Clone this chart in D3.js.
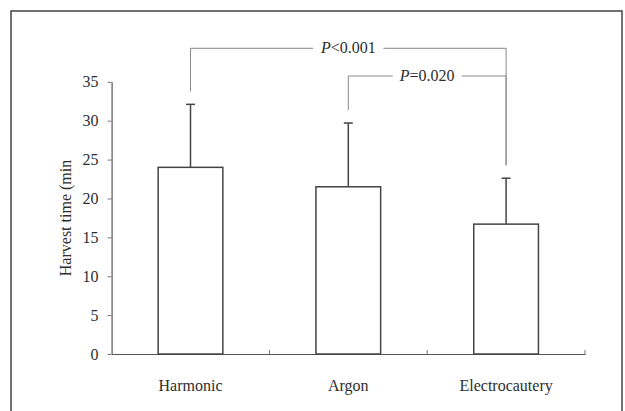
<!DOCTYPE html>
<html>
<head>
<meta charset="utf-8">
<script src="https://cdn.jsdelivr.net/npm/d3@7"></script>
<style>
  body { margin: 0; background: #fff; }
  svg { display: block; font-family: "Liberation Serif", "Times New Roman", serif; }
</style>
</head>
<body>
<div id="chart"></div>
<script>
// data
var groups = ['Harmonic', 'Argon', 'Electrocautery'];
var means = [24.0, 21.5, 16.7];
var errTops = [32.1, 29.7, 22.6];
var yTicks = [0, 5, 10, 15, 20, 25, 30, 35];
var pLabels = ['<0.001', '=0.020'];
var pPairs = [[0, 2], [1, 2]];

var svgWidth = 625, svgHeight = 411;
var ink = '#2e2e2e';
var fs = 16;

var svg = d3.select('#chart')
    .append('svg')
    .attr('width', svgWidth)
    .attr('height', svgHeight);

// outer frame
svg.append('rect')
    .attr('x', 11).attr('y', 11)
    .attr('width', 611).attr('height', 420)
    .attr('fill', 'none')
    .attr('stroke', '#444')
    .attr('stroke-width', 1.5);

var xScale = d3.scaleBand()
    .domain(groups)
    .range([111.6, 585])
    .padding(0);

var yScale = d3.scaleLinear()
    .domain([0, 35])
    .range([354, 81.8]);

var barW = xScale.bandwidth() * 0.41;
var cx = function(i) { return xScale(groups[i]) + xScale.bandwidth() / 2; };

// y axis
var yAxis = d3.axisLeft(yScale)
    .tickValues(yTicks)
    .tickSize(4)
    .tickSizeOuter(0)
    .tickPadding(9);

var yG = svg.append('g')
    .attr('transform', 'translate(111.6,0)')
    .call(yAxis);
yG.select('.domain').attr('stroke', '#555').attr('stroke-width', 1.2);
yG.selectAll('.tick line').attr('stroke', '#777');
yG.selectAll('.tick text')
    .attr('font-size', fs)
    .attr('fill', ink)
    .attr('font-family', '"Liberation Serif", serif');

// x axis: labels from band scale, ticks at band edges pointing up
var xAxis = d3.axisBottom(xScale)
    .tickSize(0)
    .tickSizeOuter(0)
    .tickPadding(26);

var xG = svg.append('g')
    .attr('transform', 'translate(0,354)')
    .call(xAxis);
xG.select('.domain').attr('stroke', '#555').attr('stroke-width', 1.2);
xG.selectAll('.tick text')
    .attr('font-size', fs)
    .attr('fill', ink)
    .attr('font-family', '"Liberation Serif", serif');

xG.selectAll('.edge')
    .data(groups.slice(1).concat(['end']))
    .enter()
    .append('line')
    .attr('x1', (d, i) => xScale(groups[0]) + (i + 1) * xScale.step())
    .attr('x2', (d, i) => xScale(groups[0]) + (i + 1) * xScale.step())
    .attr('y1', 0)
    .attr('y2', -4)
    .attr('stroke', '#777');

// y label (cut off in the original)
svg.append('text')
    .attr('transform', 'translate(71,218) rotate(-90)')
    .attr('text-anchor', 'middle')
    .attr('font-size', fs)
    .attr('fill', ink)
    .text('Harvest time (min');

// error bars
var errG = svg.append('g');
groups.forEach(function(g, i) {
    errG.append('line')
        .attr('x1', cx(i)).attr('x2', cx(i))
        .attr('y1', yScale(means[i])).attr('y2', yScale(errTops[i]))
        .attr('stroke', '#444').attr('stroke-width', 1.5);
    errG.append('line')
        .attr('x1', cx(i) - 4.5).attr('x2', cx(i) + 4.5)
        .attr('y1', yScale(errTops[i])).attr('y2', yScale(errTops[i]))
        .attr('stroke', '#444').attr('stroke-width', 1.5);
});

// bars
svg.selectAll('.bar')
    .data(means)
    .enter()
    .append('rect')
    .attr('x', (d, i) => cx(i) - barW / 2)
    .attr('y', d => yScale(d))
    .attr('width', barW)
    .attr('height', d => yScale(0) - yScale(d))
    .attr('fill', '#fff')
    .attr('stroke', '#444')
    .attr('stroke-width', 1.5);

// significance brackets
var bracketY = [48.3, 76];
var gapHalf = [35, 34.5];
pPairs.forEach(function(pair, k) {
    var x1 = cx(pair[0]), x2 = cx(pair[1]);
    var y = bracketY[k];
    var mid = (x1 + x2) / 2;
    var g = svg.append('g').attr('stroke', '#888').attr('stroke-width', 1).attr('fill', 'none');
    g.append('path')
        .attr('d', 'M' + x1 + ',' + (yScale(errTops[pair[0]]) - 13) + 'V' + y + 'H' + (mid - gapHalf[k]));
    g.append('path')
        .attr('d', 'M' + (mid + gapHalf[k]) + ',' + y + 'H' + x2 + 'V' + (yScale(errTops[pair[1]]) - 13));
    var t = svg.append('text')
        .attr('x', mid)
        .attr('y', y + 5)
        .attr('text-anchor', 'middle')
        .attr('font-size', fs)
        .attr('fill', ink);
    t.append('tspan').attr('font-style', 'italic').text('P');
    t.append('tspan').text(pLabels[k]);
});
</script>
</body>
</html>
